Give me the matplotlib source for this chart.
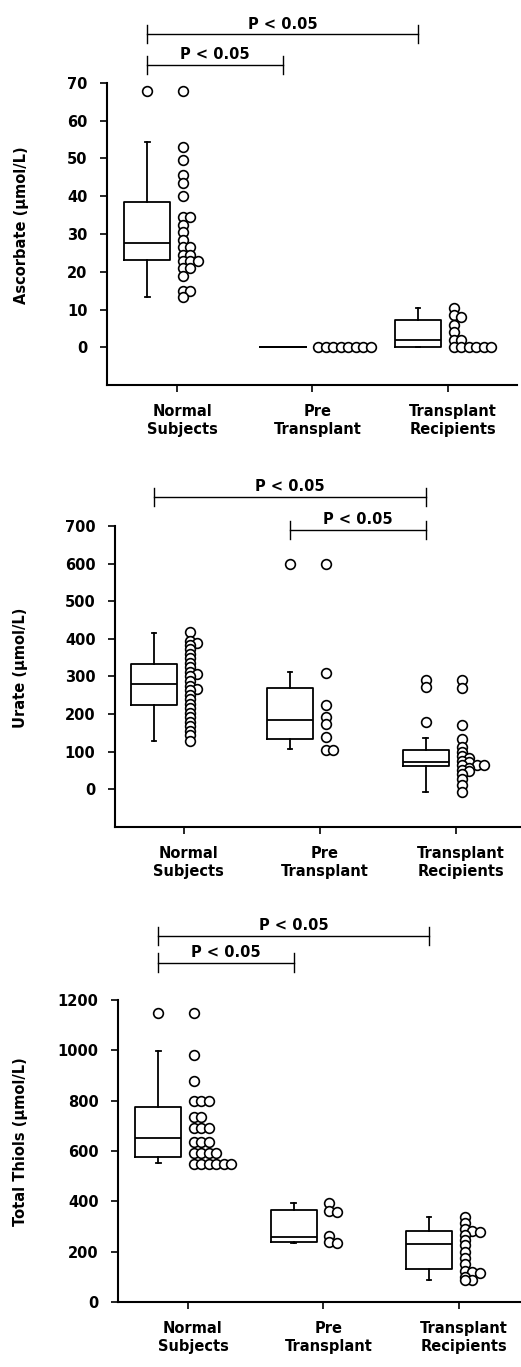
import matplotlib
matplotlib.use('Agg')
import matplotlib.pyplot as plt
import matplotlib.transforms as mtransforms
import numpy as np

plt.rcParams['font.family'] = ['DejaVu Sans']
plt.rcParams['font.weight'] = 'bold'
plt.rcParams['axes.labelweight'] = 'bold'
plt.rcParams['font.size'] = 10.5

groups = ['Normal\nSubjects', 'Pre\nTransplant', 'Transplant\nRecipients']

# ---- ascorbate ----
asc_normal = [68, 53, 49.5, 45.5, 43.5, 40, 34.5, 34.5, 32.5, 30.5, 28.5, 26.5, 26.5,
              24.5, 24.5, 22.8, 22.8, 22.8, 21, 21, 19, 15, 15, 13.3]
asc_pre = [0, 0, 0, 0, 0, 0, 0, 0]
asc_recip = [10.5, 8.5, 8, 6, 4, 2, 1.8, 0, 0, 0, 0, 0, 0]
asc_q1 = [23, 0, 0]
asc_med = [27.5, 0, 1.9]
asc_q3 = [38.5, 0, 7.2]
asc_lo = [13.4, 0, 0]
asc_hi = [54.5, 0, 10.3]
asc_fliers = [[68], [], []]

# ---- urate ----
ur_normal = [418, 395, 390, 384, 372, 360, 348, 336, 324, 312, 306, 300, 288, 276, 268,
             264, 252, 240, 228, 216, 204, 192, 180, 168, 156, 145, 128]
ur_pre = [600, 310, 225, 192, 175, 140, 105, 105]
ur_recip = [292, 270, 172, 133, 112, 100, 88, 84, 76, 72, 64, 64, 64, 58, 52, 48, 40,
            28, 12, -8]
ur_q1 = [223, 135, 62]
ur_med = [279, 185, 74]
ur_q3 = [334, 269, 105]
ur_lo = [128, 106, -7]
ur_hi = [416, 312, 137]
ur_fliers = [[], [600], [292, 272, 178]]

# ---- total thiols ----
th_normal = [1148, 982, 878, 800, 800, 800, 737, 737, 693, 693, 693, 635, 635, 635,
             591, 591, 591, 591, 549, 549, 549, 549, 549, 549]
th_pre = [392, 360, 358, 262, 238, 235]
th_recip = [337, 312, 290, 282, 280, 268, 245, 225, 200, 175, 150, 125, 118, 115, 100,
            88, 86]
th_q1 = [578, 238, 131]
th_med = [651, 258, 231]
th_q3 = [774, 364, 283]
th_lo = [552, 234, 89]
th_hi = [999, 393, 337]
th_fliers = [[1148], [], []]

W, H = 521, 1367
fig = plt.figure(figsize=(W / 100, H / 100), dpi=100)

box_off = -0.22
dot_off = 0.044
step_px = 7.5
gap_px = 3.5


def column_offsets(vals, gap):
    # simple column scatter: push a point one column right while it sits too close
    cols = []
    out = []
    for v in sorted(vals, reverse=True):
        c = 0
        while c < len(cols) and any(abs(v - u) < gap for u in cols[c]):
            c += 1
        if c == len(cols):
            cols.append([])
        cols[c].append(v)
        out.append((v, c))
    return out


def panel(rect, xlim, ylim, yticks, ylabel, ylab_x, dots, q1, med, q3, lo, hi, fliers, bars):
    ax = fig.add_axes(rect)
    ax.set_xlim(*xlim)
    ax.set_ylim(*ylim)
    h_px = rect[3] * H
    w_px = rect[2] * W
    ppu = h_px / (ylim[1] - ylim[0])
    xpu = w_px / (xlim[1] - xlim[0])

    stats = []
    for i in range(3):
        stats.append(dict(q1=q1[i], med=med[i], q3=q3[i], whislo=lo[i], whishi=hi[i],
                          fliers=fliers[i]))
    lp = dict(color='black', linewidth=1.3)
    ax.bxp(stats, positions=np.arange(3) + box_off, widths=0.34, manage_ticks=False,
           boxprops=lp, whiskerprops=lp, capprops=lp, medianprops=lp, capwidths=0.035,
           flierprops=dict(marker='o', markersize=7, markerfacecolor='white',
                           markeredgecolor='black', markeredgewidth=1.2, linestyle='none'))

    for i, vals in enumerate(dots):
        placed = column_offsets(vals, gap_px / ppu)
        xs = [i + dot_off + c * step_px / xpu for v, c in placed]
        ys = [v for v, c in placed]
        ax.plot(xs, ys, 'o', ms=7, mfc='white', mec='black', mew=1.2, zorder=3,
                clip_on=False)

    for i, j, yb in bars:
        x1, x2 = i + box_off, j + box_off
        tr = ax.get_xaxis_transform()
        ax.plot([x1, x2], [yb, yb], color='black', lw=1, transform=tr, clip_on=False)
        for xx in (x1, x2):
            ax.plot([xx, xx], [yb - 0.03, yb + 0.03], color='black', lw=1, transform=tr,
                    clip_on=False)
        ax.annotate('P < 0.05', xy=((x1 + x2) / 2, yb), xycoords=tr, xytext=(0, 4),
                    textcoords='offset points', ha='center', va='baseline')

    ax.spines['top'].set_visible(False)
    ax.spines['right'].set_visible(False)
    ax.spines['left'].set_linewidth(1.5)
    ax.spines['bottom'].set_linewidth(1.5)
    ax.set_yticks(yticks)
    ax.set_xticks(range(3))
    ax.set_xticklabels(groups)
    ax.tick_params(direction='out', length=5, width=1.2, pad=9)
    shift = mtransforms.ScaledTranslation(5 / 100, 0, fig.dpi_scale_trans)
    for lab in ax.get_xticklabels():
        lab.set_transform(lab.get_transform() + shift)
    ax.set_ylabel(ylabel, va='center')
    ax.yaxis.set_label_coords(ylab_x, 0.53)
    return ax


panel([107 / W, 1 - 385 / H, 410 / W, 302 / H], (-0.517, 2.51), (-10, 70),
      range(0, 71, 10), 'Ascorbate (µmol/L)', -0.208,
      [asc_normal, asc_pre, asc_recip], asc_q1, asc_med, asc_q3, asc_lo, asc_hi,
      asc_fliers, [(0, 2, 1.162), (0, 1, 1.060)])

panel([115 / W, 1 - 827 / H, 406 / W, 301 / H], (-0.507, 2.48), (-100, 700),
      range(0, 701, 100), 'Urate (µmol/L)', -0.232,
      [ur_normal, ur_pre, ur_recip], ur_q1, ur_med, ur_q3, ur_lo, ur_hi,
      ur_fliers, [(0, 2, 1.097), (1, 2, 0.988)])

panel([118 / W, 1 - 1302 / H, 403 / W, 302 / H], (-0.517, 2.46), (0, 1200),
      range(0, 1201, 200), 'Total Thiols (µmol/L)', -0.241,
      [th_normal, th_pre, th_recip], th_q1, th_med, th_q3, th_lo, th_hi,
      th_fliers, [(0, 2, 1.212), (0, 1, 1.124)])

fig.savefig('out.png', dpi=100)
